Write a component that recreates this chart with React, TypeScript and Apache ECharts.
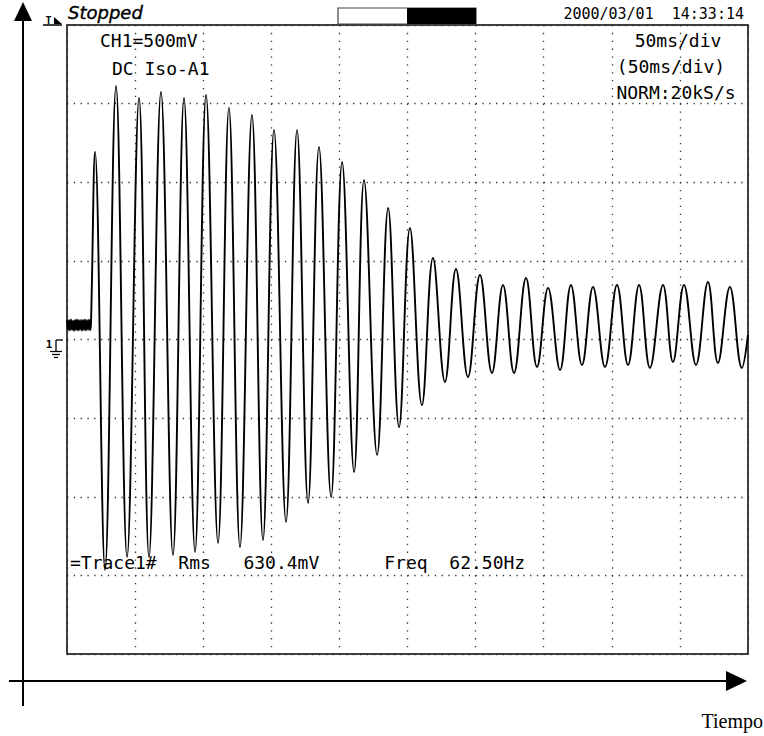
import React, { useEffect, useRef } from "react";
import * as echarts from "echarts";

const timeMs = [
  0, 0.7, 1.5, 2.2, 2.9, 3.7, 4.4, 5.1, 5.9, 6.6, 7.3, 8.1, 8.8, 9.5, 10.3,
  11.0, 11.7, 12.5, 13.2, 13.9, 14.7, 15.4, 16.2, 16.9, 17.6,
  20.6, 27.9, 36.0, 44.1, 52.9, 60.2, 69.0, 77.8, 85.9, 94.0, 102.1, 110.9,
  118.9, 127.0, 135.8, 143.9, 152.0, 160.8, 168.9, 177.0, 185.0, 193.9, 202.0,
  210.8, 218.1, 227.7, 235.8, 243.8, 251.8, 260.6, 268.7, 277.5, 285.6, 294.4,
  303.2, 312.0, 320.1, 328.2, 337.0, 345.1, 353.2, 362.0, 370.0, 378.1, 386.2,
  395.0, 403.8, 411.9, 420.0, 428.0, 437.6, 444.9, 453.0, 461.8, 470.6, 477.9,
  486.7, 495.5, 500,
];
const voltageMv = [
  125, 60, 122, 58, 128, 62, 120, 55, 125, 60, 127, 58, 122, 62, 125,
  56, 124, 60, 128, 58, 122, 62, 126, 60, 100,
  1193, -1466, 1612, -1384, 1536, -1384, 1574, -1371, 1536, -1352, 1555, -1294,
  1473, -1320, 1428, -1275, 1333, -1161, 1333, -1040, 1225, -1002, 1129,
  -843, 1015, -735, 836, -557, 709, -417, 518, -270, 448, -239,
  410, -213, 347, -213, 391, -175, 328, -194, 347, -162, 334,
  -175, 347, -162, 347, -181, 347, -143, 347, -162, 366, -149,
  334, -181, 29,
];

const headerStatus = "Stopped";
const headerDate = "2000/03/01  14:33:14";
const leftInfo = ["CH1=500mV", "DC Iso-A1"];
const rightInfo = ["50ms/div", "(50ms/div)", "NORM:20kS/s"];
const measureLine = "=Trace1#  Rms   630.4mV      Freq  62.50Hz";
const xAxisName = "Tiempo";

const MONO = "'DejaVu Sans Mono', 'Liberation Mono', monospace";

export default function App() {
  const ref = useRef<HTMLDivElement>(null);
  useEffect(() => {
    const chart = echarts.init(ref.current!, null, { renderer: "svg" });
    const data = timeMs.map((t, i) => [t, voltageMv[i]]);
    const txt = (text: string, x: number, y: number, size: number, align = "left", extra: any = {}) => ({
      type: "text",
      z: 100,
      style: {
        text,
        x,
        y,
        fill: "#000",
        fontSize: size,
        fontFamily: MONO,
        textAlign: align,
        textVerticalAlign: "middle",
        ...extra,
      },
    });
    const option: any = {
      animation: false,
      backgroundColor: "#fff",
      grid: {
        left: 67,
        top: 25,
        width: 681,
        height: 629,
        show: true,
        borderColor: "#000",
        borderWidth: 1.5,
        backgroundColor: "transparent",
      },
      xAxis: {
        type: "value",
        min: 0,
        max: 500,
        interval: 50,
        axisLine: { show: false },
        axisTick: { show: false },
        axisLabel: { show: false },
        splitLine: { show: true, lineStyle: { color: "#333", width: 1.3, type: [1.3, 6.56] } },
      },
      yAxis: {
        type: "value",
        min: -2000,
        max: 2000,
        interval: 500,
        axisLine: { show: false },
        axisTick: { show: false },
        axisLabel: { show: false },
        splitLine: { show: true, lineStyle: { color: "#333", width: 1.3, type: [1.3, 5.51] } },
      },
      series: [
        {
          type: "line",
          data,
          showSymbol: false,
          symbol: "none",
          smooth: 0.4,
          clip: true,
          lineStyle: { color: "#000", width: 1.9 },
          z: 5,
        },
      ],
      graphic: [
        // y arrow
        { type: "line", shape: { x1: 23, y1: 18, x2: 23, y2: 706 }, style: { stroke: "#000", lineWidth: 2 } },
        { type: "polygon", shape: { points: [[14, 21], [32, 21], [23, 2]] }, style: { fill: "#000" } },
        // x arrow
        { type: "line", shape: { x1: 9, y1: 681, x2: 730, y2: 681 }, style: { stroke: "#000", lineWidth: 2 } },
        { type: "polygon", shape: { points: [[726, 671], [726, 691], [747, 681]] }, style: { fill: "#000" } },
        {
          type: "text",
          style: {
            text: xAxisName,
            x: 763,
            y: 721,
            fill: "#000",
            fontSize: 20,
            fontFamily: "'Liberation Serif', 'DejaVu Serif', serif",
            textAlign: "right",
            textVerticalAlign: "middle",
          },
        },
        // trigger marker
        { type: "line", shape: { x1: 43, y1: 25, x2: 62, y2: 25 }, style: { stroke: "#000", lineWidth: 1.5 } },
        { type: "polygon", shape: { points: [[54, 17], [54, 24], [62, 24]] }, style: { fill: "#000" } },
        txt("T", 48.5, 20.5, 10, "center", { fontWeight: "bold" }),
        // status
        {
          type: "text",
          style: {
            text: headerStatus,
            x: 68,
            y: 12,
            fill: "#000",
            fontSize: 18,
            fontStyle: "italic",
            fontFamily: "'DejaVu Sans', sans-serif",
            textAlign: "left",
            textVerticalAlign: "middle",
            stroke: "#000",
            lineWidth: 0.4,
          },
        },
        // progress bar
        { type: "rect", shape: { x: 338, y: 8, width: 138, height: 16 }, style: { fill: "#fff", stroke: "#444", lineWidth: 1.2 } },
        { type: "rect", shape: { x: 407, y: 8, width: 69, height: 16 }, style: { fill: "#000" } },
        txt(headerDate, 744, 13.5, 15, "right"),
        // in-screen info
        txt(leftInfo[0], 100, 40, 18),
        txt(leftInfo[1], 112, 68, 18),
        txt(rightInfo[0], 678, 40, 18, "center"),
        txt(rightInfo[1], 671, 66.5, 18, "center"),
        txt(rightInfo[2], 676, 92, 18, "center"),
        txt(measureLine, 70, 562.5, 18),
        // ground marker
        txt("1", 49, 344, 11, "center", { fontWeight: "bold" }),
        { type: "line", shape: { x1: 56, y1: 340, x2: 63, y2: 340 }, style: { stroke: "#000", lineWidth: 1.3 } },
        { type: "line", shape: { x1: 56, y1: 340, x2: 56, y2: 351 }, style: { stroke: "#000", lineWidth: 1.3 } },
        { type: "line", shape: { x1: 50, y1: 351.5, x2: 62, y2: 351.5 }, style: { stroke: "#000", lineWidth: 1.3 } },
        { type: "line", shape: { x1: 52, y1: 354.5, x2: 60, y2: 354.5 }, style: { stroke: "#000", lineWidth: 1.3 } },
        { type: "line", shape: { x1: 54, y1: 357.5, x2: 58, y2: 357.5 }, style: { stroke: "#000", lineWidth: 1.3 } },
      ],
    };
    chart.setOption(option);
    return () => chart.dispose();
  }, []);
  return (
    <div
      ref={ref}
      style={{ position: "fixed", left: 0, top: 0, width: 764, height: 736, background: "#fff" }}
    />
  );
}
